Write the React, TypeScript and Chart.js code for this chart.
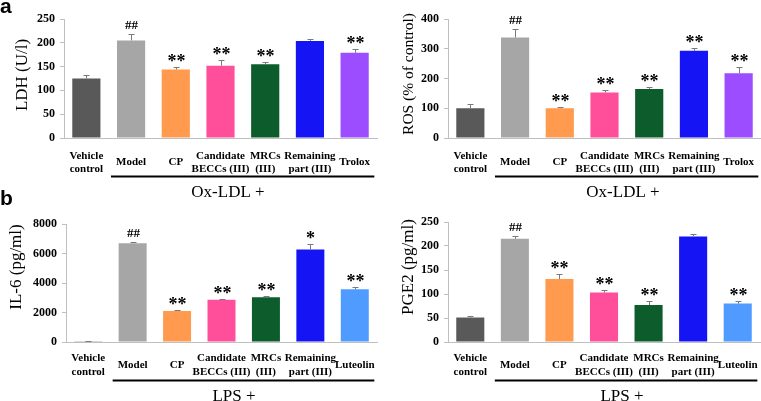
import React, { useEffect, useRef } from 'react';
import { Chart, registerables } from 'chart.js';

Chart.register(...registerables);

// ---------- data ----------
const oxLabels: (string | string[])[] = [
  ['Vehicle', 'control'], 'Model', 'CP', ['Candidate', 'BECCs (III)'], ['MRCs', '(III)'], ['Remaining', 'part (III)'], 'Trolox',
];
const lpsLabels: (string | string[])[] = [
  ['Vehicle', 'control'], 'Model', 'CP', ['Candidate', 'BECCs (III)'], ['MRCs', '(III)'], ['Remaining', 'part (III)'], 'Luteolin',
];
const oxColors = ['#595959', '#a6a6a6', '#ff9a4f', '#ff4f9b', '#0c5c2c', '#1414f5', '#9b4dff'];
const lpsColors = ['#595959', '#a6a6a6', '#ff9a4f', '#ff4f9b', '#0c5c2c', '#1414f5', '#4f9bff'];

const ldhValues = [125, 205, 144, 152, 155, 204, 179];
const ldhErrors = [7, 14, 5, 11, 5, 4, 7];
const ldhMarks = ['', '##', '**', '**', '**', '', '**'];

const rosValues = [100, 338, 100, 153, 165, 293, 218];
const rosErrors = [15, 27, 5, 7, 7, 9, 22];
const rosMarks = ['', '##', '**', '**', '**', '**', '**'];

const il6Values = [50, 6700, 2100, 2870, 3030, 6270, 3570];
const il6Errors = [20, 50, 80, 50, 70, 380, 180];
const il6Marks = ['', '##', '**', '**', '**', '*', '**'];

const pge2Values = [51, 215, 131, 103, 77, 220, 80];
const pge2Errors = [3, 6, 10, 5, 8, 5, 5];
const pge2Marks = ['', '##', '**', '**', '**', '', '**'];

const SERIF = "'Liberation Serif', 'Times New Roman', serif";
const SANS = "'Liberation Sans', Arial, sans-serif";

type Panel = {
  key: string; left: number; top: number; width: number; height: number;
  labels: (string | string[])[]; colors: string[]; values: number[]; errors: number[]; marks: string[];
  max: number; step: number;
  area: { left: number; right: number; top: number; bottom: number };
  yTitle: string; yTitleSize: number; yTitleX: number; yTitleY: number;
  group: string; groupX: number; letter?: string; letterY?: number; lineHeight: number; tickPad: number;
};

const panels: Panel[] = [
  {
    key: 'ldh', left: 0, top: 0, width: 380, height: 200,
    labels: oxLabels, colors: oxColors, values: ldhValues, errors: ldhErrors, marks: ldhMarks,
    max: 250, step: 50, area: { left: 64, right: 377, top: 19, bottom: 138 },
    yTitle: 'LDH (U/l)', yTitleSize: 17, yTitleX: 23, yTitleY: 75,
    group: 'Ox-LDL +', groupX: 228, letter: 'a', letterY: 13, lineHeight: 13.3, tickPad: 18,
  },
  {
    key: 'ros', left: 380, top: 0, width: 381, height: 200,
    labels: oxLabels, colors: oxColors, values: rosValues, errors: rosErrors, marks: rosMarks,
    max: 400, step: 100, area: { left: 68, right: 381, top: 19, bottom: 138 },
    yTitle: 'ROS (% of control)', yTitleSize: 15.5, yTitleX: 29, yTitleY: 74,
    group: 'Ox-LDL +', groupX: 243, lineHeight: 13.3, tickPad: 18,
  },
  {
    key: 'il6', left: 0, top: 185, width: 380, height: 216,
    labels: lpsLabels, colors: lpsColors, values: il6Values, errors: il6Errors, marks: il6Marks,
    max: 8000, step: 2000, area: { left: 66, right: 377, top: 39, bottom: 157 },
    yTitle: 'IL-6 (pg/ml)', yTitleSize: 17, yTitleX: 17, yTitleY: 82,
    group: 'LPS +', groupX: 234, letter: 'b', letterY: 20, lineHeight: 14.3, tickPad: 16,
  },
  {
    key: 'pge2', left: 380, top: 185, width: 381, height: 216,
    labels: lpsLabels, colors: lpsColors, values: pge2Values, errors: pge2Errors, marks: pge2Marks,
    max: 250, step: 50, area: { left: 68, right: 380, top: 37, bottom: 157 },
    yTitle: 'PGE2 (pg/ml)', yTitleSize: 17, yTitleX: 29, yTitleY: 82,
    group: 'LPS +', groupX: 242, lineHeight: 14.3, tickPad: 16,
  },
];

const annotPlugin = {
  id: 'annot',
  afterDraw(chart: any) {
    const p: Panel = chart.options.plugins.annot.panel;
    const { ctx, chartArea } = chart;
    const xs = chart.scales.x;
    const ys = chart.scales.y;
    ctx.save();
    // error bars + significance marks
    p.values.forEach((v, i) => {
      const px = Math.round(xs.getPixelForValue(i)) + 0.5;
      const base = ys.getPixelForValue(v);
      const top = Math.round(ys.getPixelForValue(v + p.errors[i])) + 0.5;
      ctx.strokeStyle = '#7a7a7a';
      ctx.lineWidth = 1;
      ctx.beginPath();
      ctx.moveTo(px, base);
      ctx.lineTo(px, top);
      ctx.moveTo(px - 3, top);
      ctx.lineTo(px + 3, top);
      ctx.stroke();
      const m = p.marks[i];
      if (m) {
        const isHash = m.startsWith('#');
        ctx.font = isHash ? `bold 13px ${SERIF}` : `bold 18px ${SERIF}`;
        ctx.fillStyle = '#000';
        ctx.textAlign = 'center';
        ctx.textBaseline = 'alphabetic';
        const mt = ctx.measureText(m);
        const center = top - 10;
        const baseline = center + (mt.actualBoundingBoxAscent - mt.actualBoundingBoxDescent) / 2;
        ctx.fillText(m, px, baseline);
      }
    });
    // group underline
    const catW = (chartArea.right - chartArea.left) / p.values.length;
    const lx0 = xs.getPixelForValue(1) - catW * 0.45;
    const lx1 = xs.getPixelForValue(p.values.length - 1) + catW * 0.44;
    const ly = chartArea.bottom + 38.5;
    ctx.strokeStyle = '#000';
    ctx.lineWidth = 2;
    ctx.beginPath();
    ctx.moveTo(lx0, ly);
    ctx.lineTo(lx1, ly);
    ctx.stroke();
    // group label
    ctx.font = `17px ${SERIF}`;
    ctx.fillStyle = '#000';
    ctx.textAlign = 'center';
    ctx.textBaseline = 'middle';
    ctx.fillText(p.group, p.groupX, chartArea.bottom + 54.5);
    // y title
    ctx.save();
    ctx.translate(p.yTitleX, p.yTitleY);
    ctx.rotate(-Math.PI / 2);
    ctx.font = `${p.yTitleSize}px ${SERIF}`;
    ctx.textAlign = 'center';
    ctx.textBaseline = 'middle';
    ctx.fillText(p.yTitle, 0, 0);
    ctx.restore();
    // panel letter
    if (p.letter) {
      ctx.font = `bold 21px ${SANS}`;
      ctx.textAlign = 'left';
      ctx.textBaseline = 'alphabetic';
      ctx.fillText(p.letter, 0, p.letterY as number);
    }
    ctx.restore();
  },
};

function PanelChart({ p }: { p: Panel }) {
  const ref = useRef<HTMLCanvasElement | null>(null);
  useEffect(() => {
    if (!ref.current) return;
    const chart = new Chart(ref.current, {
      type: 'bar',
      data: {
        labels: p.labels as any,
        datasets: [{
          data: p.values,
          backgroundColor: p.colors,
          borderWidth: 0,
          barPercentage: 0.63,
          categoryPercentage: 1,
        }],
      },
      plugins: [annotPlugin as any],
      options: {
        responsive: false,
        animation: false,
        devicePixelRatio: 1,
        layout: {
          padding: { left: 0, top: p.area.top, right: p.width - p.area.right, bottom: 0 },
        },
        plugins: {
          legend: { display: false },
          tooltip: { enabled: false },
          annot: { panel: p },
        } as any,
        scales: {
          x: {
            offset: true,
            grid: { display: false, drawTicks: false },
            border: { display: true, color: '#bfbfbf', width: 1 },
            ticks: {
              color: '#000',
              autoSkip: false,
              maxRotation: 0,
              minRotation: 0,
              padding: p.tickPad,
              crossAlign: 'center',
              font: { family: SERIF, size: 11, weight: 'bold', lineHeight: `${p.lineHeight}px` as any },
            },
            afterFit: (axis: any) => {
              axis.height = p.height - p.area.bottom;
              axis.paddingLeft = 0;
              axis.paddingRight = 0;
            },
          },
          y: {
            min: 0,
            max: p.max,
            grid: { drawOnChartArea: false, drawTicks: true, tickLength: 4, color: '#bfbfbf' },
            border: { display: true, color: '#bfbfbf', width: 1 },
            ticks: {
              stepSize: p.step,
              color: '#000',
              padding: 5,
              font: { family: SERIF, size: 12, weight: 'bold' },
              callback: (v: any) => String(v),
            },
            afterFit: (axis: any) => { axis.width = p.area.left; },
          },
        },
      },
    });
    return () => chart.destroy();
  }, [p]);
  return (
    <canvas
      ref={ref}
      width={p.width}
      height={p.height}
      style={{ position: 'absolute', left: p.left, top: p.top, width: p.width, height: p.height }}
    />
  );
}

export default function App() {
  return (
    <div style={{ position: 'fixed', left: 0, top: 0, width: 761, height: 401, background: '#fff', overflow: 'hidden' }}>
      {panels.map((p) => <PanelChart key={p.key} p={p} />)}
    </div>
  );
}
